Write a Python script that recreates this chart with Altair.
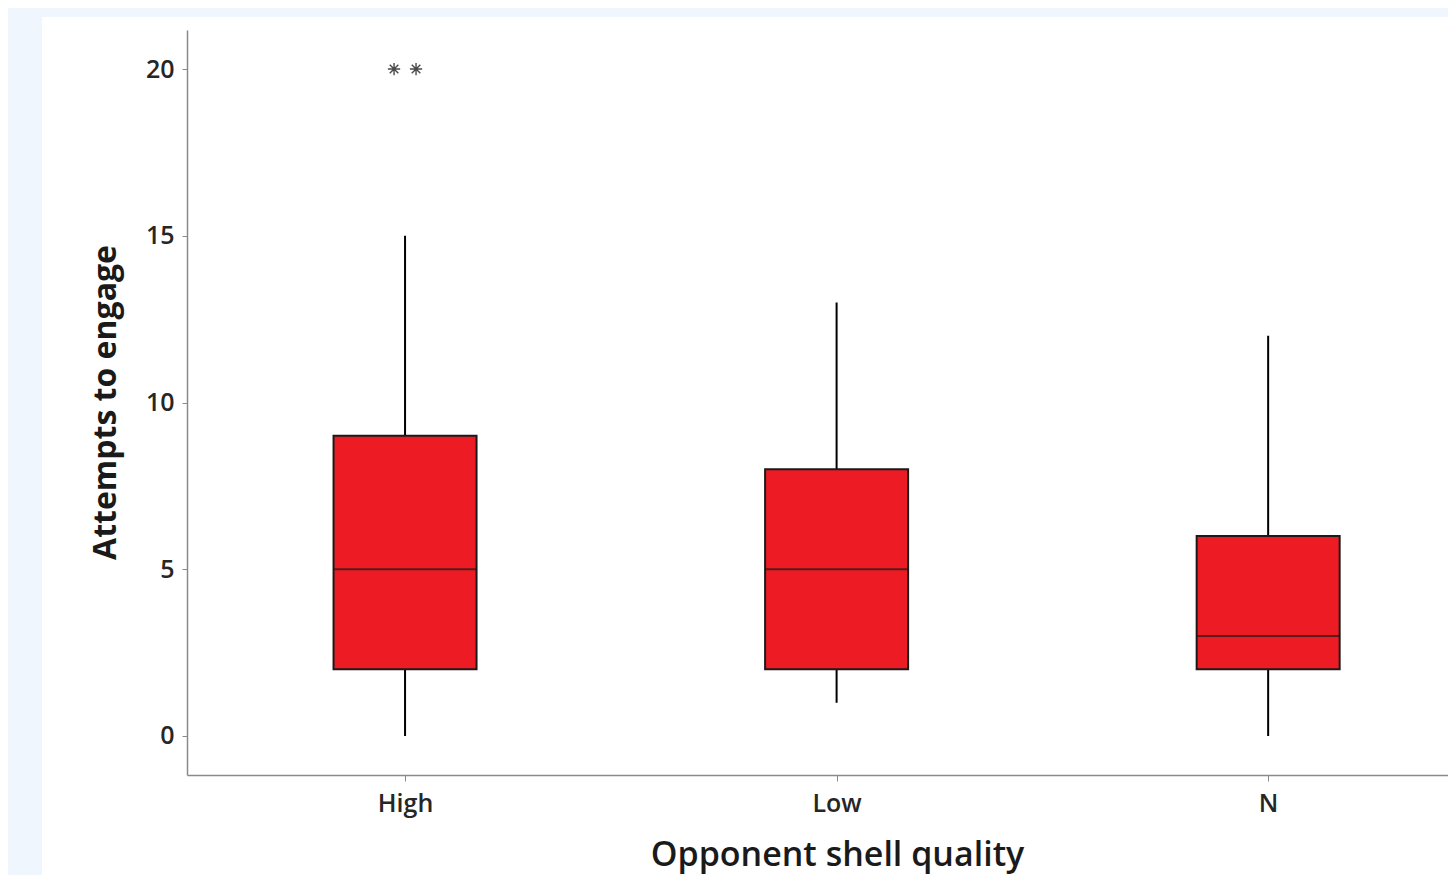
import altair as alt
import pandas as pd

categories = ["High", "Low", "N"]
whisker_lo = [0, 1, 0]
q1 = [2, 2, 2]
median = [5, 5, 3]
q3 = [9, 8, 6]
whisker_hi = [15, 13, 12]

outlier_cat = ["High", "High"]
outlier_val = [20, 20]
outlier_jit = [-1, 1]

y_ticks = [0, 5, 10, 15, 20]

box_df = pd.DataFrame({
    "cat": categories, "lo": whisker_lo, "q1": q1, "med": median,
    "q3": q3, "hi": whisker_hi,
})
out_df = pd.DataFrame({"cat": outlier_cat, "val": outlier_val, "j": outlier_jit})
bg_df = pd.DataFrame({"a": [0]})

W, H = 1261, 745

xscale = alt.Scale(type="point", domain=categories, padding=0.461, align=0.548)
yscale = alt.Scale(domain=[-1.17, 21.17], nice=False, zero=False)

x_axis = alt.Axis(
    title="Opponent shell quality", labelAngle=0, grid=False, zindex=2,
    domainColor="#8a8a8a", domainWidth=1.5, tickColor="#8a8a8a", tickSize=6,
    labelFont="Open Sans", labelFontSize=25, labelFontWeight=600, labelColor="#262626",
    labelPadding=10,
    titleFont="Open Sans", titleFontSize=34, titleFontWeight=600, titleColor="#1a1a1a",
    titleX=650, titleY=80, titleBaseline="middle", titleAlign="center",
)
y_axis = alt.Axis(
    title="Attempts to engage", values=y_ticks, grid=False, zindex=2,
    domainColor="#8a8a8a", domainWidth=1.5, tickColor="#8a8a8a", tickSize=5,
    labelFont="Open Sans", labelFontSize=25, labelFontWeight=600, labelColor="#262626",
    labelPadding=8,
    titleFont="Open Sans", titleFontSize=32, titleFontWeight="bold", titleColor="#1a1a1a",
    titleX=-82, titleY=372, titleBaseline="middle", titleAlign="center", titleAngle=-90,
)

panel = alt.Chart(bg_df).mark_rect(color="white").encode(
    x=alt.value(-145), x2=alt.value(1400), y=alt.value(-13), y2=alt.value(900)
)

base = alt.Chart(box_df)
whisk = base.mark_rule(color="black", strokeWidth=2).encode(
    x=alt.X("cat:N", scale=xscale, axis=x_axis),
    y=alt.Y("lo:Q", scale=yscale, axis=y_axis),
    y2="hi:Q",
)
box = base.mark_bar(size=143, color="#ed1c24", stroke="#1a1a1a", strokeWidth=2).encode(
    x=alt.X("cat:N", scale=xscale),
    y=alt.Y("q1:Q", scale=yscale),
    y2="q3:Q",
)
med = base.mark_tick(size=143, thickness=2, color="#1a1a1a").encode(
    x=alt.X("cat:N", scale=xscale),
    y=alt.Y("med:Q", scale=yscale),
)
ast_path = "M-1,0L1,0M0,-1L0,1M-0.7,-0.7L0.7,0.7M-0.7,0.7L0.7,-0.7"
outl = alt.Chart(out_df).mark_point(shape=ast_path, size=150, stroke="#4a4a4a",
                                     strokeWidth=1.4, filled=False, opacity=1).encode(
    x=alt.X("cat:N", scale=xscale),
    xOffset=alt.XOffset("j:Q", scale=alt.Scale(domain=[-1, 1], range=[-11, 11])),
    y=alt.Y("val:Q", scale=yscale),
)

chart = alt.layer(panel, whisk, box, med, outl).properties(
    width=W, height=H,
    background="#eff6fd",
    padding={"left": 179, "top": 22, "right": 0, "bottom": 100},
    autosize=alt.AutoSizeParams(type="none"),
).configure_view(stroke=None)

chart.save("out.html", embed_options={"renderer": "svg", "actions": False})
